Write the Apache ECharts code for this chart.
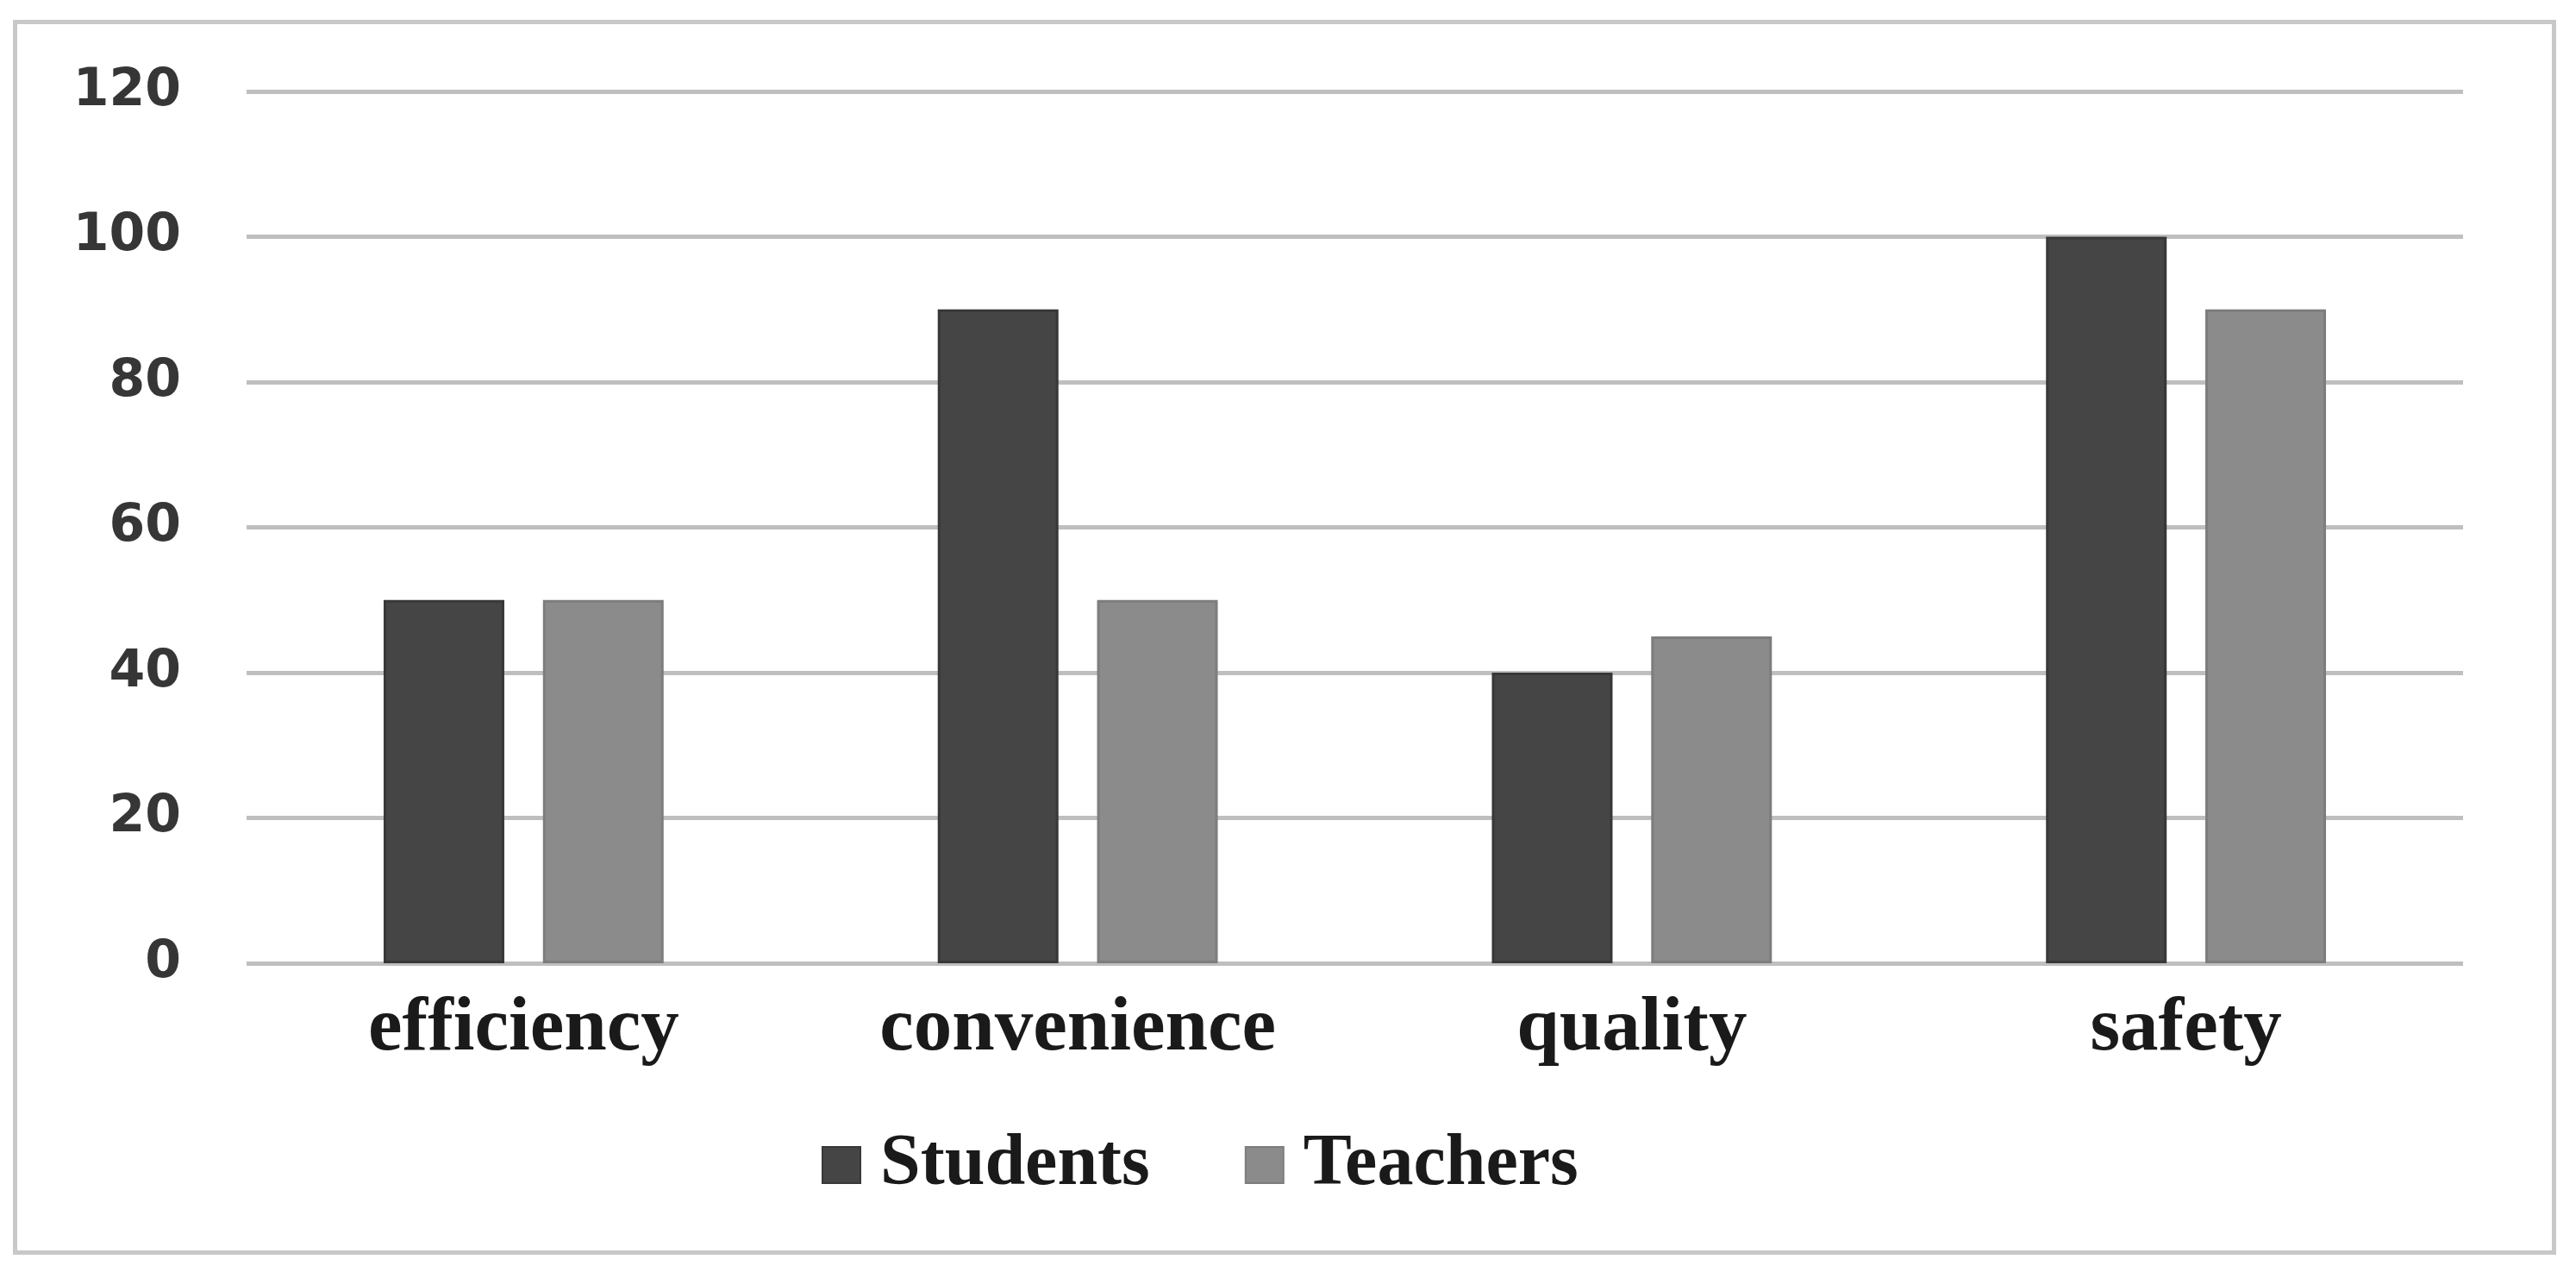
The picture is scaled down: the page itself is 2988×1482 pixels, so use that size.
<!DOCTYPE html>
<html>
<head>
<meta charset="utf-8">
<script src="https://cdn.jsdelivr.net/npm/echarts@6/dist/echarts.min.js"></script>
<style>
  html, body { margin: 0; padding: 0; background: #ffffff; }
  #chart { position: absolute; left: 0; top: 0; width: 2988px; height: 1482px; }
  #frame { position: absolute; left: 15px; top: 23px; width: 2940px; height: 1422px;
           border: 5px solid #c8c8c8; pointer-events: none; }
</style>
</head>
<body>
<div id="chart"></div>
<div id="frame"></div>
<script>
const categories = ['efficiency', 'convenience', 'quality', 'safety'];
const studentsValues = [50, 90, 40, 100];
const teachersValues = [50, 50, 45, 90];
const seriesNames = ['Students', 'Teachers'];
const yTicks = [0, 20, 40, 60, 80, 100, 120];

const chart = echarts.init(document.getElementById('chart'), null, { renderer: 'canvas' });
chart.setOption({
  backgroundColor: '#ffffff',
  animation: false,
  grid: { left: 286, right: 131, top: 106, bottom: 365, containLabel: false },
  legend: {
    data: seriesNames,
    left: 948,
    top: 1304,
    itemWidth: 44,
    itemHeight: 42,
    itemGap: 110,
    icon: 'rect',
    textStyle: {
      fontFamily: 'Liberation Serif',
      fontWeight: 'bold',
      fontSize: 84,
      color: '#1a1a1a',
      padding: [0, 0, 0, 18]
    }
  },
  xAxis: {
    type: 'category',
    data: categories,
    axisLine: { show: false },
    axisTick: { show: false },
    axisLabel: {
      margin: 33,
      fontFamily: 'Liberation Serif',
      fontWeight: 'bold',
      fontSize: 89,
      color: '#1a1a1a'
    }
  },
  yAxis: {
    type: 'value',
    min: yTicks[0],
    max: yTicks[yTicks.length - 1],
    interval: yTicks[1] - yTicks[0],
    axisLine: { show: false },
    axisTick: { show: false },
    splitLine: { lineStyle: { color: '#bfbfbf', width: 5 } },
    axisLabel: {
      margin: 76,
      fontFamily: 'DejaVu Sans',
      fontWeight: 'bold',
      fontSize: 60,
      color: '#363636'
    }
  },
  series: [
    {
      name: seriesNames[0],
      type: 'bar',
      data: studentsValues,
      barWidth: 140,
      barGap: '32%',
      itemStyle: { color: '#454545', borderColor: '#383838', borderWidth: 3 }
    },
    {
      name: seriesNames[1],
      type: 'bar',
      data: teachersValues,
      barWidth: 140,
      barGap: '32%',
      itemStyle: { color: '#8b8b8b', borderColor: '#7d7d7d', borderWidth: 3 }
    }
  ]
});
</script>
</body>
</html>
